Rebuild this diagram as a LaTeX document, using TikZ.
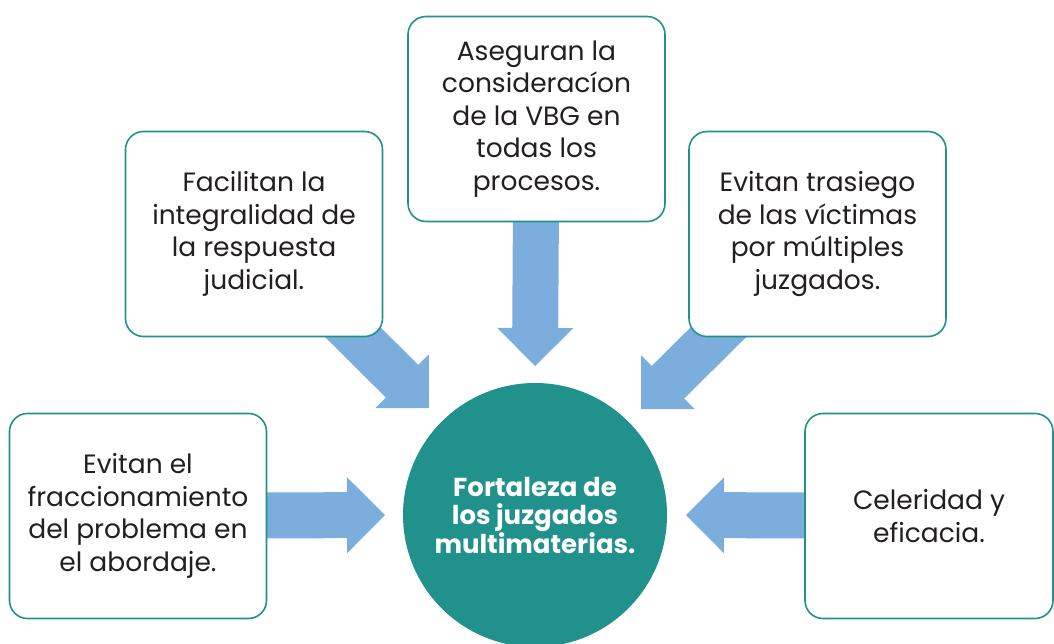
\documentclass[tikz,border=0pt]{standalone}
\usepackage{fontspec}
\setmainfont{Poppins}
\usetikzlibrary{calc,backgrounds}
\definecolor{teal1}{HTML}{21918C}
\definecolor{arrowblue}{HTML}{7BAEDC}
\definecolor{txt}{HTML}{231F20}
\tikzset{
  box/.style={draw=teal1, line width=1.6pt, fill=white, rounded corners=18pt,
    minimum width=257pt, minimum height=205pt, align=center, text=txt,
    font=\fontsize{26.5}{32.5}\selectfont, inner sep=0pt},
  hub/.style={circle, fill=teal1, minimum size=264pt, inner sep=0pt, align=center,
    text=white, font=\bfseries\fontsize{26}{28.5}\selectfont},
  arrowfill/.style={fill=arrowblue},
}
\newcommand\blockarr[2]{%
  \path coordinate (ba-b) at ($(#2)!38pt!(#1)$);
  \fill[arrowfill] ($(#1)!23pt!90:(#2)$) -- ($(ba-b)!23pt!90:(#2)$) -- ($(ba-b)!38pt!90:(#2)$) -- (#2)
    -- ($(ba-b)!38pt!-90:(#2)$) -- ($(ba-b)!23pt!-90:(#2)$) -- ($(#1)!23pt!-90:(#2)$) -- cycle;}
\begin{document}
\begin{tikzpicture}[x=1pt,y=-1pt]
\useasboundingbox (0,0) rectangle (1054,644);
\clip (0,0) rectangle (1054,644);
\node[hub] (c) at (535,515) {Fortaleza de\\los juzgados\\multimaterias.};
\node[box] (top) at (536.5,119) {Aseguran la\\consideracíon\\de la VBG en\\todas los\\procesos.};
\node[box] (tl) at (254,234) {Facilitan la\\integralidad de\\la respuesta\\judicial.};
\node[box] (tr) at (817.5,234) {Evitan trasiego\\de las víctimas\\por múltiples\hspace*{9pt}\\juzgados.};
\node[box] (l) at (138,516) {Evitan el\\fraccionamiento\hspace*{14pt}\\del problema en\\el abordaje.};
\node[box, minimum width=248pt] (r) at (929,516) {Celeridad y\\eficacia.};
\coordinate (tipTop) at (535,366);
\coordinate (tipTL) at (429,408);
\coordinate (tipTR) at (641,409);
\coordinate (tipL) at (385,515);
\coordinate (tipR) at (686,515);
\begin{pgfonlayer}{background}
\blockarr{top.center}{tipTop}
\blockarr{tl.center}{tipTL}
\blockarr{tr.center}{tipTR}
\blockarr{l.center}{tipL}
\blockarr{r.center}{tipR}
\end{pgfonlayer}
\end{tikzpicture}
\end{document}
